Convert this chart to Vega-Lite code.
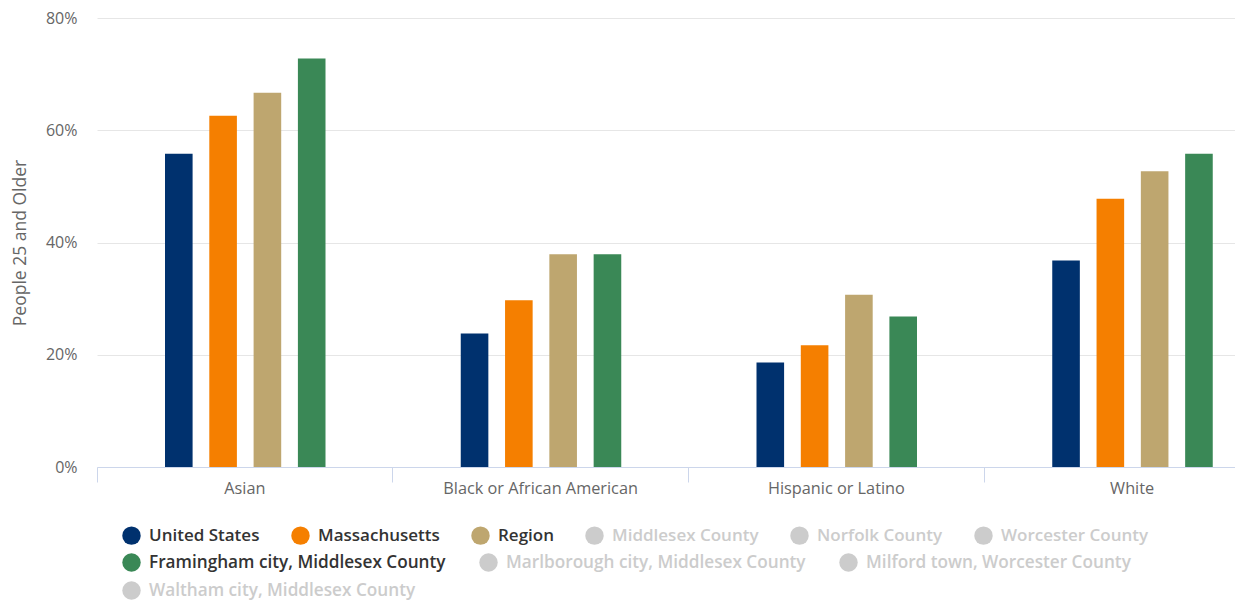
{
  "$schema": "https://vega.github.io/schema/vega-lite/v6.json",
  "width": 1138,
  "height": 449,
  "autosize": {"type": "none"},
  "padding": {"left": 97, "top": 18, "right": 0, "bottom": 134},
  "background": "white",
  "config": {"view": {"stroke": null}, "font": "Open Sans"},
  "data": {
    "values": [
      {"category": "Asian", "series": "United States", "pct": 55.8},
      {"category": "Asian", "series": "Massachusetts", "pct": 62.6},
      {"category": "Asian", "series": "Region", "pct": 66.7},
      {"category": "Asian", "series": "Framingham city, Middlesex County", "pct": 72.8},
      {"category": "Black or African American", "series": "United States", "pct": 23.8},
      {"category": "Black or African American", "series": "Massachusetts", "pct": 29.7},
      {"category": "Black or African American", "series": "Region", "pct": 37.9},
      {"category": "Black or African American", "series": "Framingham city, Middlesex County", "pct": 37.9},
      {"category": "Hispanic or Latino", "series": "United States", "pct": 18.6},
      {"category": "Hispanic or Latino", "series": "Massachusetts", "pct": 21.7},
      {"category": "Hispanic or Latino", "series": "Region", "pct": 30.7},
      {"category": "Hispanic or Latino", "series": "Framingham city, Middlesex County", "pct": 26.8},
      {"category": "White", "series": "United States", "pct": 36.8},
      {"category": "White", "series": "Massachusetts", "pct": 47.8},
      {"category": "White", "series": "Region", "pct": 52.7},
      {"category": "White", "series": "Framingham city, Middlesex County", "pct": 55.8}
    ]
  },
  "mark": {"type": "bar", "strokeWidth": 0},
  "encoding": {
    "x": {
      "field": "category",
      "type": "nominal",
      "sort": ["Asian", "Black or African American", "Hispanic or Latino", "White"],
      "scale": {"range": [0, 1183], "paddingInner": 0, "paddingOuter": 0},
      "axis": {
        "title": null,
        "labelAngle": 0,
        "bandPosition": 0,
        "domainColor": "#ccd6eb",
        "tickColor": "#ccd6eb",
        "tickSize": 15,
        "labelPadding": -2,
        "labelColor": "#666666",
        "labelFontSize": 16.3,
        "labelFont": "Open Sans",
        "labelLimit": 400,
        "grid": false
      }
    },
    "xOffset": {
      "field": "series",
      "type": "nominal",
      "scale": {
        "domain": ["United States", "Massachusetts", "Region", "Framingham city, Middlesex County"],
        "range": [68, 228.5],
        "paddingInner": 0.377,
        "paddingOuter": 0
      }
    },
    "y": {
      "field": "pct",
      "type": "quantitative",
      "scale": {"domain": [0, 80], "nice": false},
      "axis": {
        "title": "People 25 and Older",
        "titleColor": "#666666",
        "titleFontSize": 17.5,
        "titleFontWeight": "normal",
        "titleFont": "Open Sans",
        "titlePadding": 16,
        "values": [0, 20, 40, 60, 80],
        "labelExpr": "datum.value + '%'",
        "labelColor": "#666666",
        "labelFontSize": 16,
        "labelFont": "Open Sans",
        "labelPadding": 20,
        "domain": false,
        "ticks": false,
        "gridColor": "#e6e6e6"
      }
    },
    "color": {
      "field": "series",
      "type": "nominal",
      "scale": {
        "domain": ["United States", "Massachusetts", "Region", "Middlesex County", "Norfolk County", "Worcester County", "Framingham city, Middlesex County", "Marlborough city, Middlesex County", "Milford town, Worcester County", "Waltham city, Middlesex County"],
        "range": ["#00316e", "#f57f00", "#bea66f", "#cccccc", "#cccccc", "#cccccc", "#3a8856", "#cccccc", "#cccccc", "#cccccc"]
      },
      "legend": {
        "title": null,
        "orient": "none",
        "legendX": 25,
        "legendY": 508,
        "direction": "horizontal",
        "values": ["United States", "Massachusetts", "Region", "Middlesex County", "Norfolk County", "Worcester County"],
        "symbolType": "circle",
        "symbolSize": 340,
        "symbolStrokeWidth": 0,
        "labelFont": "Open Sans",
        "labelFontSize": 17,
        "labelFontWeight": 600,
        "labelOffset": 8,
        "labelLimit": 500,
        "columnPadding": 31,
        "padding": 0,
        "labelColor": {"expr": "indexof(['United States','Massachusetts','Region','Framingham city, Middlesex County'], datum.value) >= 0 ? '#333333' : '#cccccc'"}
      }
    },
    "stroke": {
      "field": "series",
      "type": "nominal",
      "scale": {
        "domain": ["Framingham city, Middlesex County", "Marlborough city, Middlesex County", "Milford town, Worcester County", "Waltham city, Middlesex County"],
        "range": ["#3a8856", "#cccccc", "#cccccc", "#cccccc"]
      },
      "legend": {
        "title": null,
        "orient": "none",
        "legendX": 25,
        "legendY": 535,
        "direction": "horizontal",
        "columns": 3,
        "gridAlign": "none",
        "values": ["Framingham city, Middlesex County", "Marlborough city, Middlesex County", "Milford town, Worcester County", "Waltham city, Middlesex County"],
        "symbolType": "circle",
        "symbolSize": 340,
        "symbolStrokeWidth": 0,
        "symbolFillColor": {"expr": "datum.value === 'Framingham city, Middlesex County' ? '#3a8856' : '#cccccc'"},
        "labelColor": {"expr": "datum.value === 'Framingham city, Middlesex County' ? '#333333' : '#cccccc'"},
        "labelFont": "Open Sans",
        "labelFontSize": 17.2,
        "labelFontWeight": 600,
        "labelOffset": 8,
        "labelLimit": 500,
        "columnPadding": 33,
        "rowPadding": 9,
        "padding": 0
      }
    }
  }
}
